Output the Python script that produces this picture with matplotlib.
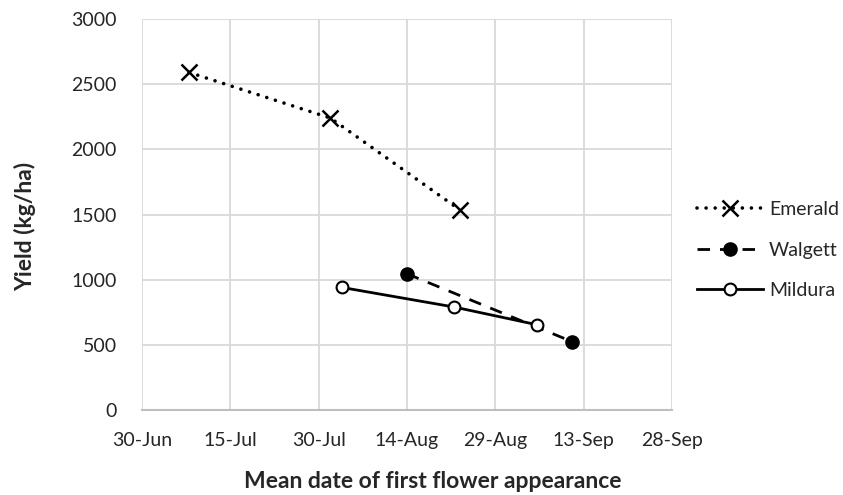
import matplotlib
matplotlib.use("Agg")
import matplotlib.pyplot as plt
import matplotlib.dates as mdates
import pandas as pd

plt.rcParams['font.family'] = ['Lato', 'DejaVu Sans']

emerald_dates = ["2024-07-08", "2024-08-01", "2024-08-23"]
emerald_yield = [2590, 2240, 1535]
walgett_dates = ["2024-08-14", "2024-09-11"]
walgett_yield = [1045, 525]
mildura_dates = ["2024-08-03", "2024-08-22", "2024-09-05"]
mildura_yield = [940, 790, 655]

x_ticks = ["2024-06-30", "2024-07-15", "2024-07-30", "2024-08-14",
           "2024-08-29", "2024-09-13", "2024-09-28"]
y_ticks = [0, 500, 1000, 1500, 2000, 2500, 3000]

fig = plt.figure(figsize=(8.43, 4.95), dpi=100)
ax = fig.add_axes([142/843, 1-410/495, (672-142)/843, (410-19)/495])

lw = 2.0
ax.plot(pd.to_datetime(emerald_dates), emerald_yield, color='black', lw=2.6,
        linestyle=(0, (0.01, 2.5)), dash_capstyle='round',
        marker='x', ms=11, mew=1.8, label='Emerald', zorder=3)
ax.plot(pd.to_datetime(walgett_dates), walgett_yield, color='black', lw=lw,
        linestyle=(0, (4.5, 3.6)), marker='o', ms=9.5, mfc='black', mec='black',
        label='Walgett', zorder=3)
ax.plot(pd.to_datetime(mildura_dates), mildura_yield, color='black', lw=lw,
        linestyle='-', marker='o', ms=8.5, mfc='white', mec='black', mew=1.5,
        label='Mildura', zorder=4)

xt = pd.to_datetime(x_ticks)
ax.set_xlim(xt[0], xt[-1])
ax.set_ylim(0, 3000)
ax.set_xticks(xt)
ax.xaxis.set_major_formatter(mdates.DateFormatter('%-d-%b'))
ax.set_yticks(y_ticks)

ax.grid(True, color='#d9d9d9', lw=1.3)
ax.set_axisbelow(True)
for s in ['top', 'right', 'left']:
    ax.spines[s].set_visible(False)
ax.spines['bottom'].set_color('#bfbfbf')
ax.spines['bottom'].set_linewidth(1.5)
ax.tick_params(axis='y', length=0, labelsize=14, colors='#262626', pad=18)
ax.tick_params(axis='x', length=0, labelsize=14, colors='#262626', pad=16)

ax.set_xlabel('Mean date of first flower appearance', fontsize=16.5,
              fontweight='bold', color='#262626', va='center')
ax.xaxis.set_label_coords((433 - 142) / 530, -(481 - 410) / 391)
ax.set_ylabel('Yield (kg/ha)', fontsize=16.5, fontweight='bold', color='#262626',
              va='center')
ax.yaxis.set_label_coords(-(142 - 25) / 530, (410 - 226) / 391)

leg = ax.legend(loc='center left', bbox_to_anchor=(697/843, 1-250/495),
                bbox_transform=fig.transFigure, frameon=False,
                fontsize=14, handlelength=3.4, labelspacing=1.2,
                handletextpad=0.3, borderpad=0, borderaxespad=0)
for t in leg.get_texts():
    t.set_color('#262626')

fig.savefig('out.png', dpi=100)
